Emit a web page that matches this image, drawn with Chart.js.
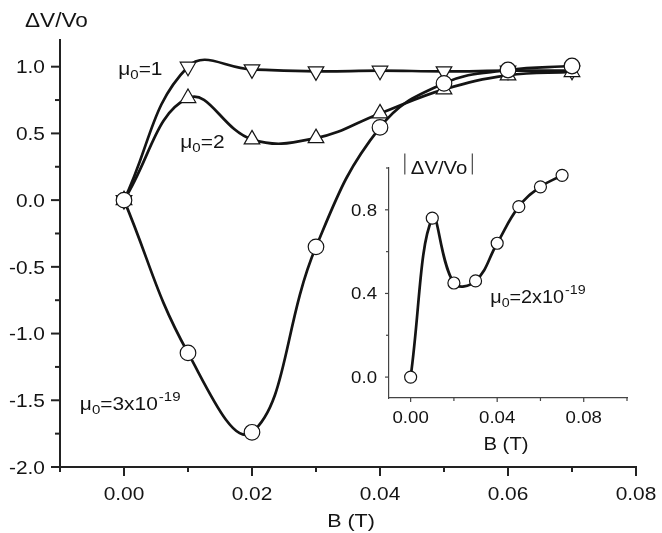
<!DOCTYPE html>
<html>
<head>
<meta charset="utf-8">
<script src="https://cdn.jsdelivr.net/npm/chart.js@4.4.1/dist/chart.umd.min.js"></script>
<style>
  html, body { margin: 0; padding: 0; background: #fff; }
  #wrap { position: relative; width: 662px; height: 533px; }
  #main { position: absolute; left: 0; top: 0; }
  #inset { position: absolute; left: 330px; top: 140px; }
</style>
</head>
<body>
<div id="wrap">
  <canvas id="main" width="662" height="533"></canvas>
  <canvas id="inset" width="332" height="330"></canvas>
</div>
<script>
// Magnetic field B (T)
const fieldB = [0, 0.01, 0.02, 0.03, 0.04, 0.05, 0.06, 0.07];

// Relative voltage change ΔV/Vo for three values of μ0
const dvMu1    = [0, 1.00, 0.98, 0.965, 0.97, 0.965, 0.97, 0.97];
const dvMu2    = [0, 0.765, 0.455, 0.465, 0.65, 0.83, 0.935, 0.96];
const dvMu3e19 = [0, -1.145, -1.74, -0.35, 0.545, 0.875, 0.975, 1.005];

// Inset: |ΔV/Vo| for μ0 = 2x10^-19
const absDvMu2e19 = [0, 0.76, 0.45, 0.46, 0.64, 0.815, 0.91, 0.965];

// Tick values (major ticks carry labels)
const mainXMajor  = [0.00, 0.02, 0.04, 0.06, 0.08];
const mainXMinor  = [-0.01, 0.01, 0.03, 0.05, 0.07];
const mainYMajor  = [-2.0, -1.5, -1.0, -0.5, 0.0, 0.5, 1.0];
const mainYMinor  = [-1.75, -1.25, -0.75, -0.25, 0.25, 0.75];
const insetXMajor = [0.00, 0.04, 0.08];
const insetXMinor = [0.02, 0.06, 0.10];
const insetYMajor = [0.0, 0.4, 0.8];
const insetYMinor = [0.2, 0.6, 1.0];

const FONT = '"Liberation Sans", Arial, Helvetica, sans-serif';
const STRETCH = 1.13;          // text is drawn slightly wide
const INK = '#141414';
const CURVE_TENSION = 0.42;

function pts(ys) { return fieldB.map((b, i) => ({ x: b, y: ys[i] })); }

function textW(ctx, s, size) {
  ctx.font = size + 'px ' + FONT;
  return ctx.measureText(s).width * STRETCH;
}
// draws wide text; x is left edge (or right/center per align), y is baseline
function wideText(ctx, s, x, y, size, align) {
  const w = textW(ctx, s, size);
  let left = x;
  if (align === 'right') left = x - w;
  else if (align === 'center') left = x - w / 2;
  ctx.save();
  ctx.font = size + 'px ' + FONT;
  ctx.fillStyle = INK;
  ctx.textAlign = 'left';
  ctx.textBaseline = 'alphabetic';
  ctx.translate(left, y);
  ctx.scale(STRETCH, 1);
  ctx.fillText(s, 0, 0);
  ctx.restore();
  return w;
}
// μ0=... label with optional superscript exponent
function muLabel(ctx, x, y, size, rest, sup) {
  let cx = x;
  cx += wideText(ctx, 'μ', cx, y, size);
  cx += wideText(ctx, '0', cx, y + size * 0.22, size * 0.72);
  cx += wideText(ctx, rest, cx, y, size);
  if (sup) wideText(ctx, sup, cx + 1, y - size * 0.5, size * 0.72);
}

function allTicks(major, minor) {
  return major.concat(minor).sort((a, b) => a - b).map(v => ({ value: v }));
}
function isMajor(list, v) { return list.some(m => Math.abs(m - v) < 1e-9); }

// Draws tick marks, tick labels and texts for one chart
function makeAxisPlugin(cfg) {
  return {
    id: 'axisDecor',
    afterDraw(chart) {
      const ctx = chart.ctx;
      const xs = chart.scales.x, ys = chart.scales.y;
      const area = chart.chartArea;
      ctx.save();
      ctx.strokeStyle = cfg.axisColor;
      ctx.lineWidth = cfg.tickWidth;
      ctx.lineCap = 'butt';
      // x ticks (downward)
      xs.ticks.forEach(t => {
        const p = xs.getPixelForValue(t.value);
        const maj = isMajor(cfg.xMajor, t.value);
        const len = maj ? cfg.majorLen : cfg.minorLen;
        ctx.beginPath();
        ctx.moveTo(p, area.bottom);
        ctx.lineTo(p, area.bottom + len);
        ctx.stroke();
        if (maj) {
          const s = Math.abs(t.value) < 1e-9 ? '0.00' : t.value.toFixed(2);
          wideText(ctx, s, p, area.bottom + cfg.xLabelOffset, cfg.tickFont, 'center');
        }
      });
      // y ticks (leftward)
      ys.ticks.forEach(t => {
        const p = ys.getPixelForValue(t.value);
        const maj = isMajor(cfg.yMajor, t.value);
        const len = maj ? cfg.majorLen : cfg.minorLen;
        ctx.beginPath();
        ctx.moveTo(area.left, p);
        ctx.lineTo(area.left - len, p);
        ctx.stroke();
        if (maj) {
          const s = Math.abs(t.value) < 1e-9 ? '0.0' : t.value.toFixed(1);
          wideText(ctx, s, area.left - cfg.yLabelOffset, p + cfg.tickFont * 0.36, cfg.tickFont, 'right');
        }
      });
      ctx.restore();
      cfg.texts(ctx, xs, ys, area);
    }
  };
}

function scaleOpts(min, max, major, minor, fitSize, isX, axisW, axisColor) {
  return {
    type: 'linear',
    min: min, max: max,
    afterBuildTicks(scale) { scale.ticks = allTicks(major, minor); },
    afterFit(scale) { if (isX) scale.height = fitSize; else scale.width = fitSize; },
    ticks: { display: false },
    grid: { display: true, drawOnChartArea: false, drawTicks: false },
    border: { display: true, color: axisColor, width: axisW }
  };
}

function curve(label, ys, style, radius, rotation) {
  return {
    label: label, data: pts(ys),
    borderColor: INK, borderWidth: 2.7, tension: CURVE_TENSION,
    pointStyle: style, pointRotation: rotation || 0, pointRadius: radius,
    pointBackgroundColor: '#fff', pointBorderColor: INK, pointBorderWidth: 1.2
  };
}

// ---------- main chart ----------
const mainCtx = document.getElementById('main').getContext('2d');
new Chart(mainCtx, {
  type: 'line',
  data: {
    datasets: [
      curve('μ0=3x10^-19', dvMu3e19, 'circle', 7.8),
      curve('μ0=2', dvMu2, 'triangle', 9),
      curve('μ0=1', dvMu1, 'triangle', 9, 180)
    ]
  },
  options: {
    responsive: false, animation: false, devicePixelRatio: 1,
    layout: { padding: { left: 0, top: 40, right: 26, bottom: 0 } },
    plugins: { legend: { display: false }, tooltip: { enabled: false } },
    scales: {
      x: scaleOpts(-0.01, 0.08, mainXMajor, mainXMinor, 66, true, 2, '#222'),
      y: scaleOpts(-2.0, 1.2, mainYMajor, mainYMinor, 60, false, 2, '#222')
    }
  },
  plugins: [makeAxisPlugin({
    xMajor: mainXMajor, yMajor: mainYMajor,
    axisColor: '#222', tickWidth: 2, majorLen: 9, minorLen: 5,
    tickFont: 18.5, xLabelOffset: 33, yLabelOffset: 15,
    texts(ctx, xs, ys, area) {
      wideText(ctx, 'ΔV/Vo', 25, 27, 20);
      wideText(ctx, 'B (T)', (area.left + area.right) / 2 + 3, 527, 19, 'center');
      muLabel(ctx, xs.getPixelForValue(-0.0009), ys.getPixelForValue(0.9375), 18.5, '=1');
      muLabel(ctx, xs.getPixelForValue(0.0088), ys.getPixelForValue(0.3875), 18.5, '=2');
      muLabel(ctx, xs.getPixelForValue(-0.0069), ys.getPixelForValue(-1.575), 18.5, '=3x10', '-19');
    }
  })]
});

// ---------- inset chart ----------
const insetCtx = document.getElementById('inset').getContext('2d');
new Chart(insetCtx, {
  type: 'line',
  data: {
    datasets: [curve('|ΔV/Vo|', absDvMu2e19, 'circle', 6)]
  },
  options: {
    responsive: false, animation: false, devicePixelRatio: 1,
    layout: { padding: { left: 0, top: 28, right: 35, bottom: 0 } },
    plugins: { legend: { display: false }, tooltip: { enabled: false } },
    scales: {
      x: scaleOpts(-0.01, 0.10, insetXMajor, insetXMinor, 72, true, 1.2, '#444'),
      y: scaleOpts(-0.1, 1.0, insetYMajor, insetYMinor, 59, false, 1.2, '#444')
    }
  },
  plugins: [makeAxisPlugin({
    xMajor: insetXMajor, yMajor: insetYMajor,
    axisColor: '#444', tickWidth: 1.2, majorLen: 4, minorLen: 3,
    tickFont: 16.5, xLabelOffset: 25, yLabelOffset: 12,
    texts(ctx, xs, ys, area) {
      // |ΔV/Vo| with absolute-value bars
      const x0 = xs.getPixelForValue(-0.0027);
      const base = ys.getPixelForValue(0.969);
      ctx.save();
      ctx.strokeStyle = '#555';
      ctx.lineWidth = 1.3;
      ctx.beginPath();
      ctx.moveTo(x0, base - 21); ctx.lineTo(x0, base);
      ctx.stroke();
      const w = wideText(ctx, 'ΔV/Vo', x0 + 6, base, 18);
      ctx.beginPath();
      ctx.moveTo(x0 + 6 + w + 5, base - 21); ctx.lineTo(x0 + 6 + w + 5, base);
      ctx.stroke();
      ctx.restore();
      wideText(ctx, 'B (T)', (area.left + area.right) / 2 - 2, 310, 18, 'center');
      muLabel(ctx, xs.getPixelForValue(0.0368), ys.getPixelForValue(0.356), 17.5, '=2x10', '-19');
    }
  })]
});
</script>
</body>
</html>
